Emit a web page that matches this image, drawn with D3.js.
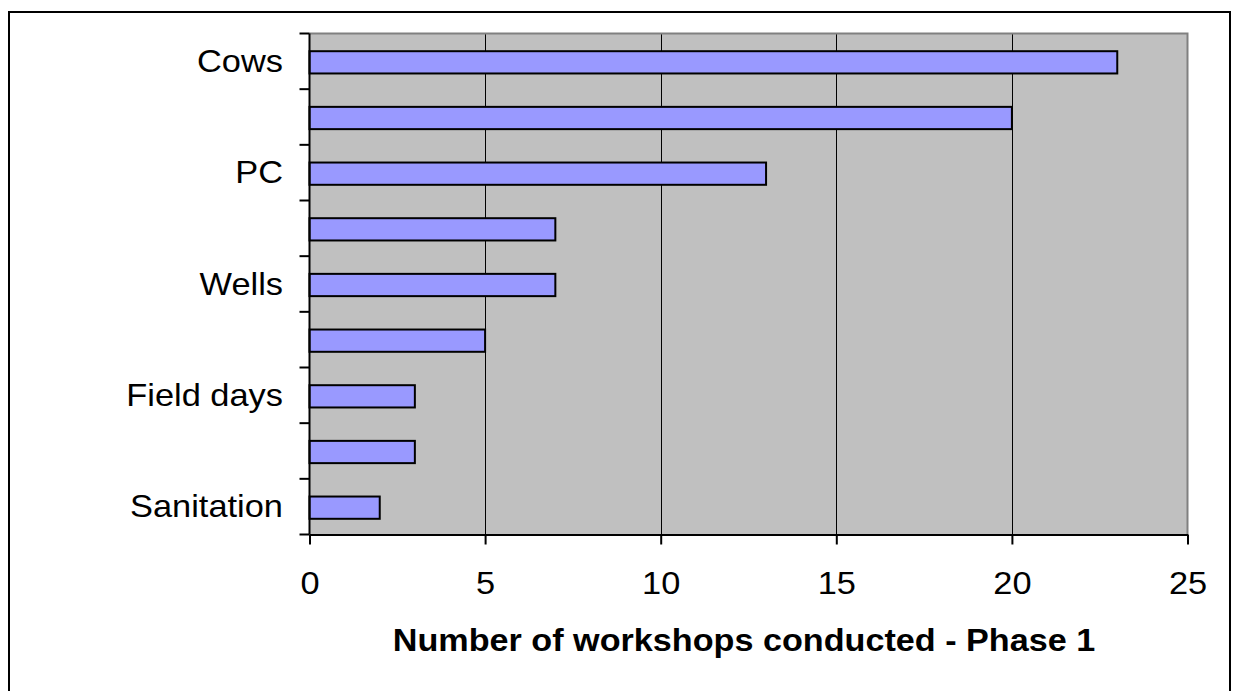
<!DOCTYPE html>
<html>
<head>
<meta charset="utf-8">
<script src="https://cdn.jsdelivr.net/npm/d3@7"></script>
<style>
  html, body { margin: 0; padding: 0; background: #fff; }
  svg { display: block; }
  text { font-family: Arial, "Liberation Sans", sans-serif; fill: #000; }
</style>
</head>
<body>
<svg id="chart" width="1234" height="691"></svg>
<script>
// Workshop categories, top to bottom; only every other axis label is printed
const categories = ["Cows", "", "PC", "", "Wells", "", "Field days", "", "Sanitation"];
const workshops = [23, 20, 13, 7, 7, 5, 3, 3, 2];
const xTicks = [0, 5, 10, 15, 20, 25];
const xTitle = "Number of workshops conducted - Phase 1";

const svg = d3.select("#chart");
const plot = { left: 309.5, top: 33.5, right: 1187.5, bottom: 534.5 };
const stretch = 1.075; // text is set slightly wide

// outer frame
svg.append("rect")
  .attr("x", 9).attr("y", 12)
  .attr("width", 1221).attr("height", 700)
  .attr("fill", "none").attr("stroke", "#000").attr("stroke-width", 2);

const x = d3.scaleLinear().domain([0, 25]).range([plot.left, plot.right]);
const y = d3.scaleBand()
  .domain(d3.range(categories.length))
  .range([plot.top, plot.bottom])
  .paddingInner(0.6)
  .paddingOuter(0.3);

// plot area background
svg.append("rect")
  .attr("x", plot.left).attr("y", plot.top)
  .attr("width", plot.right - plot.left).attr("height", plot.bottom - plot.top)
  .attr("fill", "#c0c0c0");

// vertical gridlines
svg.append("g")
  .selectAll("line")
  .data(xTicks.filter(d => d > 0 && d < 25))
  .join("line")
  .attr("x1", d => Math.round(x(d)) + 0.5).attr("x2", d => Math.round(x(d)) + 0.5)
  .attr("y1", plot.top).attr("y2", plot.bottom)
  .attr("stroke", "#000").attr("stroke-width", 1);

// plot area border (top / right)
svg.append("path")
  .attr("d", `M${plot.left},${plot.top}H${plot.right}V${plot.bottom}`)
  .attr("fill", "none").attr("stroke", "#808080").attr("stroke-width", 2);

// bars
svg.append("g")
  .selectAll("rect")
  .data(workshops)
  .join("rect")
  .attr("x", x(0))
  .attr("y", (d, i) => y(i) + 1)
  .attr("width", d => x(d) - x(0))
  .attr("height", y.bandwidth())
  .attr("fill", "#9999ff")
  .attr("stroke", "#000")
  .attr("stroke-width", 2);

// x axis
const xAxis = d3.axisBottom(x).tickValues(xTicks).tickSize(10).tickSizeOuter(0);
const gx = svg.append("g").attr("transform", `translate(0,${plot.bottom})`).call(xAxis);
gx.select(".domain").attr("stroke", "#000").attr("stroke-width", 2);
gx.selectAll(".tick line").attr("stroke", "#000").attr("stroke-width", 2);
gx.selectAll(".tick text")
  .attr("y", 59.5).attr("dy", 0)
  .attr("transform", `scale(${stretch},1)`)
  .attr("font-size", 32).attr("fill", "#000")
  .attr("font-family", "Arial, 'Liberation Sans', sans-serif");

// y axis line with boundary ticks between categories
const boundaries = d3.range(categories.length + 1)
  .map(i => plot.top + i * (plot.bottom - plot.top) / categories.length);
svg.append("line")
  .attr("x1", plot.left).attr("x2", plot.left)
  .attr("y1", plot.top).attr("y2", plot.bottom)
  .attr("stroke", "#000").attr("stroke-width", 2);
svg.append("g")
  .selectAll("line")
  .data(boundaries)
  .join("line")
  .attr("x1", plot.left - 10).attr("x2", plot.left)
  .attr("y1", d => d).attr("y2", d => d)
  .attr("stroke", "#000").attr("stroke-width", 2);

// category labels
svg.append("g")
  .selectAll("text")
  .data(categories)
  .join("text")
  .attr("transform", (d, i) =>
    `translate(283,${y(i) + y.bandwidth() / 2 + 10.5}) scale(${stretch},1)`)
  .attr("text-anchor", "end")
  .attr("font-size", 32)
  .text(d => d);

// axis title
svg.append("text")
  .attr("transform", `translate(744,651) scale(1.085,1)`)
  .attr("text-anchor", "middle")
  .attr("font-size", 31.5)
  .attr("font-weight", "bold")
  .text(xTitle);
</script>
</body>
</html>
